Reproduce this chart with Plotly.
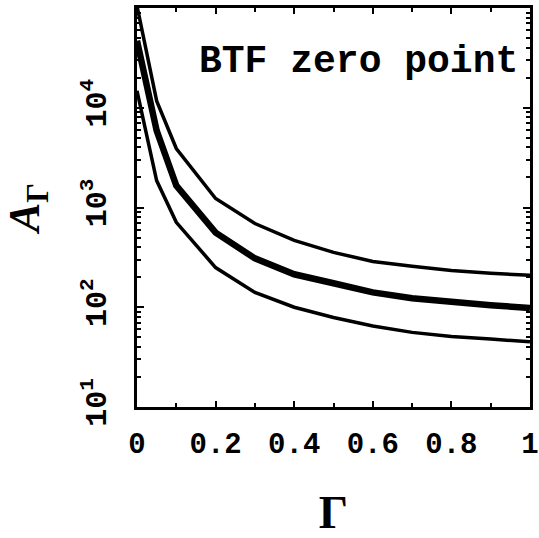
import plotly.graph_objects as go

gamma = [0.0, 0.05, 0.1, 0.2, 0.3, 0.4, 0.5, 0.6, 0.7, 0.8, 0.9, 1.0]
upper = [105000, 11700, 3900, 1230, 690, 468, 355, 288, 257, 234, 219, 209]
middle = [47000, 5900, 1660, 560, 309, 214, 174, 141, 123, 112, 105, 98]
lower = [14800, 1860, 710, 250, 141, 100, 79, 65, 56, 51, 48, 45]

ytickvals = [10, 100, 1000, 10000]
yticktext = ["10<sup>1</sup>", "10<sup>2</sup>", "10<sup>3</sup>", "10<sup>4</sup>"]
xtickvals = [0, 0.2, 0.4, 0.6, 0.8, 1.0]
xticktext = ["0", "0.2", "0.4", "0.6", "0.8", "1"]

FONT = "Liberation Mono"

fig = go.Figure()
for ys, w in [(upper, 3.5), (middle, 6.5), (lower, 3.5)]:
    fig.add_trace(go.Scatter(x=gamma, y=ys, mode="lines",
                             line=dict(color="black", width=w), showlegend=False))

fig.update_layout(
    width=539, height=538,
    margin=dict(l=137, r=9, t=8, b=131, autoexpand=False),
    paper_bgcolor="white", plot_bgcolor="white",
    font=dict(family=FONT, color="black", size=28, weight="bold"),
    xaxis=dict(range=[0, 1], tickvals=xtickvals, ticktext=xticktext, automargin=False,
               ticks="inside", ticklen=6, tickwidth=2, tickcolor="black",
               showline=True, linewidth=3, linecolor="black", mirror="ticks",
               showgrid=False, zeroline=False, ticklabelstandoff=8,
               minor=dict(ticks="inside", ticklen=4, tickwidth=2, dtick=0.1, tickcolor="black", showgrid=False),
               tickfont=dict(family=FONT, size=29, weight="bold"),
               title=dict(text="Γ", font=dict(family="Liberation Serif", size=46, weight="bold"), standoff=40)),
    yaxis=dict(type="log", range=[1, 5], tickvals=ytickvals, ticktext=yticktext, automargin=False,
               ticks="inside", ticklen=7, tickwidth=2, tickcolor="black",
               showline=True, linewidth=3, linecolor="black", mirror="ticks",
               showgrid=False, zeroline=False, tickangle=-90, ticklabelstandoff=16,
               minor=dict(ticks="inside", ticklen=4, tickwidth=2, dtick="D1", tickcolor="black", showgrid=False),
               tickfont=dict(family=FONT, size=30, weight="bold"),
               title=dict(text="<i>A</i><sub>Γ</sub>", font=dict(family="Liberation Serif", size=44, weight="bold"), standoff=28)),
    annotations=[dict(text="BTF zero point", xref="paper", yref="paper",
                      x=0.975, y=0.925, xanchor="right", yanchor="top", showarrow=False,
                      font=dict(family=FONT, size=38, weight="bold"))],
)

fig.write_html("out.html")
